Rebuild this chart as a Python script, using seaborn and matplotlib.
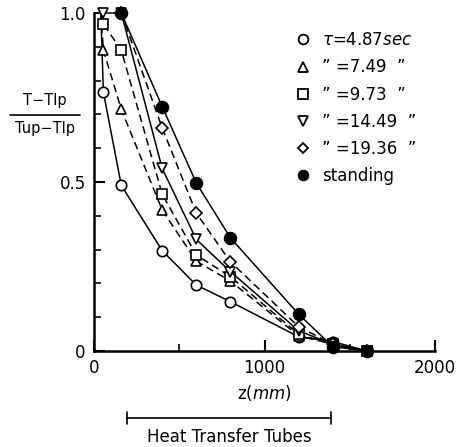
import matplotlib
matplotlib.use("Agg")
import matplotlib.pyplot as plt
from matplotlib.lines import Line2D
import matplotlib.transforms as mtrans
import numpy as np
import pandas as pd
import seaborn as sns

sns.set_style("white")
plt.rcParams['font.family'] = ['DejaVu Sans']
plt.rcParams['mathtext.fontset'] = 'dejavusans'
for k in ['text.color', 'axes.labelcolor', 'xtick.color', 'ytick.color', 'axes.edgecolor']:
    plt.rcParams[k] = 'black'

# ---- data ----
z_open = [40, 55, 160, 400, 600, 800, 1200, 1400, 1600]
tau_487 = [1.0, 0.766, 0.49, 0.297, 0.195, 0.146, 0.042, 0.028, 0.0]
tau_749 = [1.0, 0.89, 0.715, 0.417, 0.266, 0.207, 0.045, 0.02, 0.0]
tau_973 = [1.0, 0.967, 0.89, 0.464, 0.284, 0.22, 0.05, 0.02, 0.0]
z_dt = [55, 160, 400, 600, 800, 1200, 1400, 1600]
tau_1449 = [1.0, 1.0, 0.54, 0.33, 0.235, 0.06, 0.02, 0.0]
z_st = [160, 400, 600, 800, 1200, 1400, 1600]
tau_1936 = [1.0, 0.66, 0.408, 0.264, 0.072, 0.02, 0.0]
standing = [1.0, 0.723, 0.497, 0.335, 0.109, 0.013, 0.0]

labels = [r'$\tau$=4.87$\mathit{sec}$', '\u201d =7.49  \u201d', '\u201d =9.73  \u201d',
          '\u201d =14.49  \u201d', '\u201d =19.36  \u201d', 'standing']
xticks = [0, 1000, 2000]
yticks = [0, 0.5, 1.0]
ytick_labels = ['0', '0.5', '1.0']
tubes = [193, 1390]

series = [
    (z_open, tau_487, 'o', 'white', (0, ()), 1),
    (z_open, tau_749, '^', 'white', (0, (5, 3)), 1),
    (z_open, tau_973, 's', 'white', (0, (5, 3)), 1),
    (z_dt, tau_1449, 'v', 'white', (0, ()), 0),
    (z_st, tau_1936, 'D', 'white', (0, (5, 3)), 0),
    (z_st, standing, 'o', 'black', (0, ()), 0),
]
msizes = {'o': 7.5, '^': 7.5, 's': 7.5, 'v': 7.5, 'D': 6}

fig = plt.figure(figsize=(4.63, 4.47), dpi=100)
ax = fig.add_axes([94/463, 1-351/447, (435-94)/463, 338/447])

for i, (x, y, m, fc, ls, skip) in enumerate(series):
    df = pd.DataFrame({'z': x, 'v': y})
    ms = msizes[m] + (1 if fc == 'black' else 0)
    sns.lineplot(data=df, x='z', y='v', ax=ax, color='black', linewidth=1.1,
                 linestyle=ls, marker=m, markersize=ms,
                 markerfacecolor=fc, markeredgecolor='black', markeredgewidth=1.2,
                 markevery=slice(skip, None), clip_on=False, sort=False, zorder=3 + i)

ax.set_xlim(0, 2000)
ax.set_ylim(0, 1.0)
ax.set_xticks(xticks)
ax.set_xticklabels(['0', '1000', '2000'], fontsize=12)
ax.set_xticks([500, 1500], minor=True)
ax.set_yticks(yticks)
ax.set_yticklabels(ytick_labels, fontsize=12)
ax.set_yticks(np.arange(0.1, 1.0, 0.1), minor=True)
ax.tick_params(axis='both', which='major', direction='in', length=8, width=1.5,
               left=True, bottom=True, pad=6, colors='black')
ax.tick_params(axis='both', which='minor', direction='in', length=5, width=1.2,
               left=True, bottom=True, colors='black')
for s in ['top', 'right']:
    ax.spines[s].set_visible(False)
for s in ['left', 'bottom']:
    ax.spines[s].set_linewidth(1.8)
    ax.spines[s].set_color('black')
ax.set_ylabel('')
ax.set_xlabel(r'z($\mathit{mm}$)', fontsize=12, labelpad=4, color='black')

# y label as a fraction
fig.text(45/463, 1-101/447, 'T\u2212Tlp', ha='center', va='center', fontsize=10.5)
fig.text(45/463, 1-128/447, 'Tup\u2212Tlp', ha='center', va='center', fontsize=10.5)
fig.add_artist(Line2D([10/463, 80/463], [1-115/447, 1-115/447], color='black', lw=1.2))

# legend
handles = []
for (x, y, m, fc, ls, skip) in series:
    handles.append(Line2D([], [], linestyle='none', marker=m, markersize=msizes[m] - 0.5,
                          markerfacecolor=fc, markeredgecolor='black', markeredgewidth=1.3))
leg = ax.legend(handles, labels, loc='upper left', bbox_to_anchor=(285/463, 1-23/447),
                bbox_transform=fig.transFigure, frameon=False, fontsize=12,
                handletextpad=0.5, labelspacing=0.55, handlelength=1.2, borderpad=0,
                labelcolor='black')

# heat transfer tubes bracket
trans = mtrans.blended_transform_factory(ax.transData, fig.transFigure)
yb = 1 - 418/447
ax.add_artist(Line2D(tubes, [yb, yb], transform=trans, color='black', lw=1.2, clip_on=False))
for xt in tubes:
    ax.add_artist(Line2D([xt, xt], [yb - 6/447, yb + 6/447], transform=trans, color='black',
                         lw=1.2, clip_on=False))
ax.text(np.mean(tubes), 1 - 437/447, 'Heat Transfer Tubes', transform=trans, ha='center',
        va='center', fontsize=12)

fig.savefig('out.png', dpi=100)
